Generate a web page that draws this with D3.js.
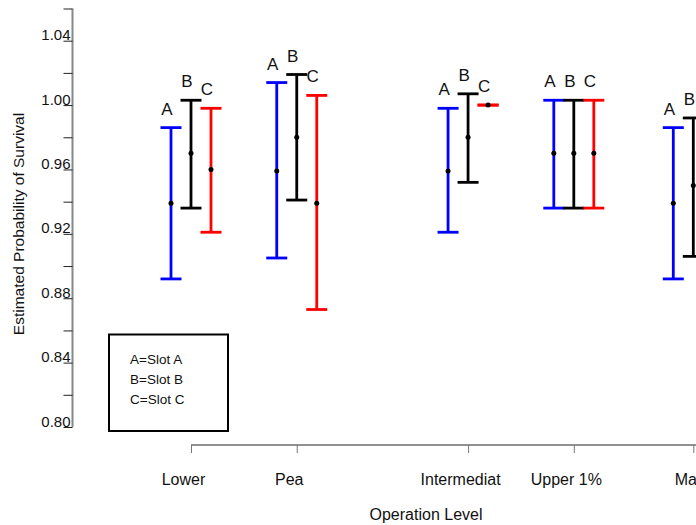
<!DOCTYPE html>
<html>
<head>
<meta charset="utf-8">
<script src="https://cdn.jsdelivr.net/npm/d3@7"></script>
<style>
  body { margin: 0; background: #fff; }
  svg { display: block; font-family: "Liberation Sans", Arial, sans-serif; }
</style>
</head>
<body>
<script>
// operation levels (labels as printed) and their position along the x variable
var levels = ["Lower", "Pea", "Intermediat", "Upper 1%", "Ma"];
var levelX = [0, 1, 2.62, 3.62, 4.75];

var slots = ["A", "B", "C"];
var slotColors = ["#0000ff", "#000000", "#ff0000"];

// estimate, lower and upper limit per slot (null = not shown)
var estA = [0.939, 0.959, 0.959, 0.970, 0.939];
var lowA = [0.892, 0.905, 0.921, 0.936, 0.892];
var highA = [0.986, 1.014, 0.998, 1.003, 0.986];

var estB = [0.970, 0.980, 0.980, 0.970, 0.950];
var lowB = [0.936, 0.941, 0.952, 0.936, 0.906];
var highB = [1.003, 1.019, 1.007, 1.003, 0.992];

var estC = [0.960, 0.939, 1.000, 0.970, null];
var lowC = [0.921, 0.873, 1.000, 0.936, null];
var highC = [0.998, 1.006, 1.000, 1.003, null];

var yTicks = d3.range(0, 14).map(function(i){ return +(0.80 + i * 0.02).toFixed(2); });
var legendLines = ["A=Slot A", "B=Slot B", "C=Slot C"];

window.onload = drawChart;

function drawChart(){

	var width = 696,
		height = 525;

	var svg = d3.select("body")
		.append("svg")
		.attr("width", width)
		.attr("height", height);

	var y = d3.scaleLinear()
		.domain([0.80, 1.04])
		.range([427, 40.7]);

	var x = d3.scaleLinear()
		.domain([0, 4.75])
		.range([191, 693.3]);

	var slotOffset = 20;

	// y axis
	var yAxis = svg.append("g")
		.attr("transform", "translate(72.5,0)")
		.call(d3.axisLeft(y)
			.tickValues(yTicks)
			.tickSize(9)
			.tickSizeOuter(0)
			.tickFormat(function(d){
				return Math.round(d * 100) % 4 === 0 ? d3.format(".2f")(d) : "";
			}));
	yAxis.select(".domain")
		.attr("stroke", "#888")
		.attr("stroke-width", 2)
		.attr("d", "M0," + y(1.06) + "V" + y(0.80));
	yAxis.selectAll(".tick line").attr("stroke", "#222");
	yAxis.selectAll(".tick text")
		.attr("x", -2)
		.attr("dy", "-1")
		.attr("fill", "#111")
		.style("font-size", "15px");

	// x axis
	var xAxis = svg.append("g")
		.attr("transform", "translate(0,445)")
		.call(d3.axisBottom(x)
			.tickValues(levelX)
			.tickSize(8)
			.tickSizeOuter(0)
			.tickFormat(function(d, i){ return levels[i]; }));
	xAxis.select(".domain")
		.attr("stroke", "#222")
		.attr("d", "M" + x(0) + ",0H" + width);
	xAxis.selectAll(".tick line").attr("stroke", "#777");
	xAxis.selectAll(".tick text")
		.attr("x", -8)
		.attr("y", 40)
		.attr("dy", 0)
		.attr("fill", "#111")
		.style("font-size", "16px");

	// axis titles
	svg.append("text")
		.attr("x", 426)
		.attr("y", 520)
		.attr("text-anchor", "middle")
		.style("font-size", "16px")
		.attr("fill", "#111")
		.text("Operation Level");

	svg.append("text")
		.attr("transform", "translate(24,224) rotate(-90)")
		.attr("text-anchor", "middle")
		.style("font-size", "15.5px")
		.attr("fill", "#111")
		.text("Estimated Probability of Survival");

	// build error bar records
	var est = [estA, estB, estC],
		low = [lowA, lowB, lowC],
		high = [highA, highB, highC];

	var bars = [];
	slots.forEach(function(s, si){
		levels.forEach(function(l, li){
			if (est[si][li] == null) return;
			bars.push({
				slot: s,
				color: slotColors[si],
				cx: x(levelX[li]) + (si - 1) * slotOffset,
				est: est[si][li],
				low: low[si][li],
				high: high[si][li]
			});
		});
	});

	var capHalf = 10.5;

	var bar = svg.selectAll(".errbar")
		.data(bars)
		.enter()
		.append("g")
		.attr("class", "errbar");

	bar.append("line")
		.attr("x1", function(d){ return d.cx; })
		.attr("x2", function(d){ return d.cx; })
		.attr("y1", function(d){ return y(d.low); })
		.attr("y2", function(d){ return y(d.high); })
		.attr("stroke", function(d){ return d.color; })
		.attr("stroke-width", 2.8);

	bar.selectAll(".cap")
		.data(function(d){ return [[d, d.low], [d, d.high]]; })
		.enter()
		.append("line")
		.attr("class", "cap")
		.attr("x1", function(p){ return p[0].cx - capHalf; })
		.attr("x2", function(p){ return p[0].cx + capHalf; })
		.attr("y1", function(p){ return y(p[1]); })
		.attr("y2", function(p){ return y(p[1]); })
		.attr("stroke", function(p){ return p[0].color; })
		.attr("stroke-width", 2.8);

	bar.append("circle")
		.attr("cx", function(d){ return d.cx; })
		.attr("cy", function(d){ return y(d.est); })
		.attr("r", 2.5)
		.attr("fill", "#000");

	bar.append("text")
		.attr("x", function(d){ return d.cx - 4; })
		.attr("y", function(d){ return y(d.high) - 13; })
		.attr("text-anchor", "middle")
		.style("font-size", "17px")
		.attr("fill", "#111")
		.text(function(d){ return d.slot; });

	// legend box
	var legend = svg.append("g");
	legend.append("rect")
		.attr("x", 109)
		.attr("y", 334.5)
		.attr("width", 119)
		.attr("height", 96.5)
		.attr("fill", "#fff")
		.attr("stroke", "#000")
		.attr("stroke-width", 2);
	legend.selectAll("text")
		.data(legendLines)
		.enter()
		.append("text")
		.attr("x", 130)
		.attr("y", function(d, i){ return 364 + i * 20.2; })
		.style("font-size", "13.5px")
		.attr("fill", "#111")
		.text(function(d){ return d; });
}
</script>
</body>
</html>
